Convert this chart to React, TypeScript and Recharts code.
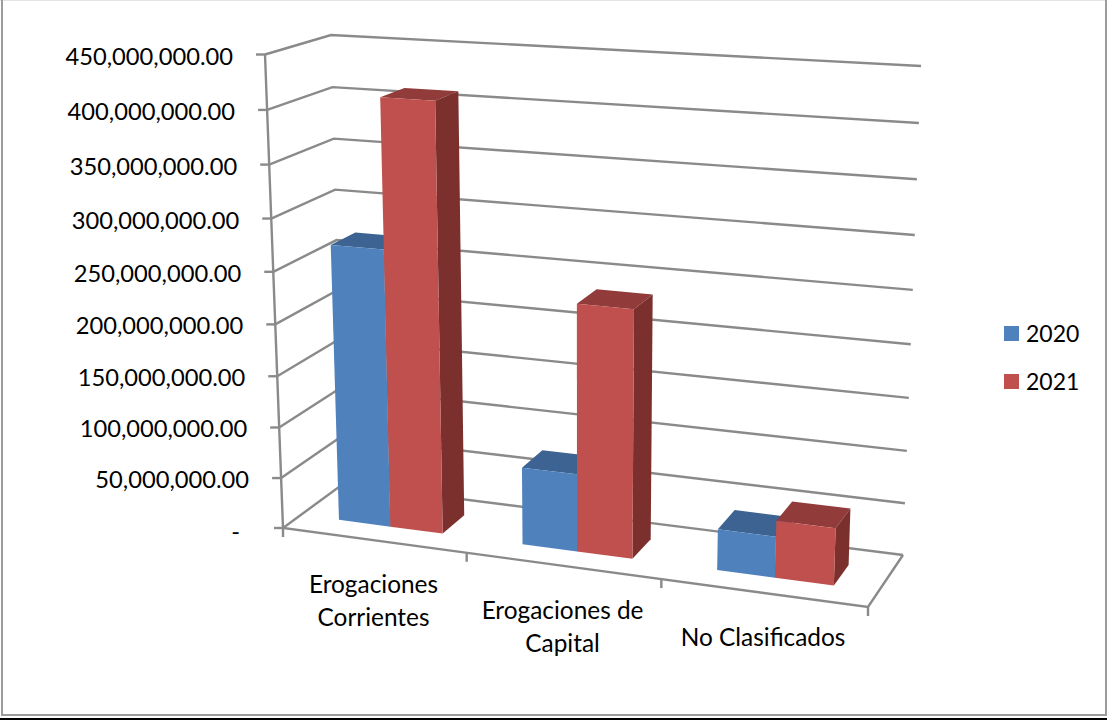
import React from "react";
import { Bar, BarChart, CartesianGrid, Legend, XAxis, YAxis } from "recharts";

const categories = ["Erogaciones Corrientes", "Erogaciones de Capital", "No Clasificados"];
const values2020 = [270000000, 75000000, 39000000];
const values2021 = [411000000, 236000000, 54000000];
const valueTicks = [0, 50000000, 100000000, 150000000, 200000000, 250000000, 300000000, 350000000, 400000000, 450000000];
const categoryLines = [["Erogaciones", "Corrientes"], ["Erogaciones de", "Capital"], ["No Clasificados"]];

const data = categories.map((name, i) => ({
  name,
  y2020: values2020[i],
  y2021: values2021[i],
}));

const WIDTH = 1107;
const HEIGHT = 720;
const MARGIN = 50;
const PLOT_W = WIDTH - MARGIN * 2;
const PLOT_H = HEIGHT - MARGIN * 2;
const FONT = "Lato, sans-serif";
const LINE = "#8a8a8a";

type Pt = [number, number];

// corners of the flat plot as they appear in the tilted view: TL, TR, BR, BL
function homography([p0, p1, p2, p3]: Pt[]) {
  const dx1 = p1[0] - p2[0];
  const dx2 = p3[0] - p2[0];
  const dy1 = p1[1] - p2[1];
  const dy2 = p3[1] - p2[1];
  const sx = p0[0] - p1[0] + p2[0] - p3[0];
  const sy = p0[1] - p1[1] + p2[1] - p3[1];
  const den = dx1 * dy2 - dx2 * dy1;
  const g = (sx * dy2 - dx2 * sy) / den;
  const h = (dx1 * sy - sx * dy1) / den;
  const a = p1[0] - p0[0] + g * p1[0];
  const b = p3[0] - p0[0] + h * p3[0];
  const d = p1[1] - p0[1] + g * p1[1];
  const e = p3[1] - p0[1] + h * p3[1];
  return (u: number, v: number): Pt => {
    const q = g * u + h * v + 1;
    return [(a * u + b * v + p0[0]) / q, (d * u + e * v + p0[1]) / q];
  };
}

const frontPlane = homography([[265, 54.5], [887, 92], [868, 607], [283, 528]]);
const backPlane = homography([[331, 35], [921, 66], [903, 555], [343, 484]]);

function project(u: number, v: number, w: number): Pt {
  const f = frontPlane(u, v);
  const b = backPlane(u, v);
  return [f[0] + (b[0] - f[0]) * w, f[1] + (b[1] - f[1]) * w];
}

const toU = (x: number) => (x - MARGIN) / PLOT_W;
const toV = (y: number) => (y - MARGIN) / PLOT_H;
const pts = (list: Pt[]) => list.map((p) => p.join(",")).join(" ");

const BAR_FRONT = 0.3;
const BAR_BACK = 0.7;

function Bar3D({ x, y, width, height, front, top, side }: any) {
  const u0 = toU(x);
  const u1 = toU(x + width);
  const v0 = toV(y);
  const v1 = toV(y + height);
  return (
    <g>
      <polygon points={pts([project(u0, v0, BAR_FRONT), project(u1, v0, BAR_FRONT), project(u1, v0, BAR_BACK), project(u0, v0, BAR_BACK)])} fill={top} />
      <polygon points={pts([project(u1, v0, BAR_FRONT), project(u1, v0, BAR_BACK), project(u1, v1, BAR_BACK), project(u1, v1, BAR_FRONT)])} fill={side} />
      <polygon points={pts([project(u0, v0, BAR_FRONT), project(u1, v0, BAR_FRONT), project(u1, v1, BAR_FRONT), project(u0, v1, BAR_FRONT)])} fill={front} />
    </g>
  );
}

function GridLine({ y1 }: any) {
  const v = toV(y1);
  return (
    <polyline
      points={pts([project(0, v, 0), project(0, v, 1), project(1, v, 1)])}
      fill="none"
      stroke={LINE}
      strokeWidth={2.4}
    />
  );
}

function ValueTick({ y, payload }: any) {
  const [px, py] = project(0, toV(y), 0);
  const isZero = payload.value === 0;
  const label = isZero
    ? "-"
    : payload.value.toLocaleString("en-US", { minimumFractionDigits: 2, maximumFractionDigits: 2 });
  return (
    <g>
      <line x1={px - 9} y1={py} x2={px} y2={py} stroke={LINE} strokeWidth={2.4} />
      <text
        x={isZero ? px - 43 : px - 32}
        y={py + (isZero ? 3 : 1)}
        textAnchor="end"
        dominantBaseline="central"
        fontFamily={FONT}
        fontSize={23.7}
        fill="#000"
      >
        {label}
      </text>
    </g>
  );
}

function CategoryTick({ x, index }: any) {
  const [px, py] = project(toU(x), 1, 0);
  return (
    <text textAnchor="middle" fontFamily={FONT} fontSize={24.4} fill="#000">
      {categoryLines[index].map((line, i) => (
        <tspan key={line} x={px} y={py + 53 + i * 33}>
          {line}
        </tspan>
      ))}
    </text>
  );
}

function Frame() {
  const base = project(0, 1, 0);
  const corner = project(1, 1, 0);
  const backCorner = project(1, 1, 1);
  const top = project(0, 0, 0);
  return (
    <g>
      <rect x={0} y={0} width={WIDTH} height={1} fill="#e4e4e4" />
      <rect x={1} y={0} width={2} height={716} fill="#9c9c9c" />
      <rect x={1105} y={0} width={2} height={716} fill="#9c9c9c" />
      <rect x={1} y={714} width={1106} height={2} fill="#9c9c9c" />
      <rect x={0} y={718} width={WIDTH} height={2} fill="#000" />
      <polyline points={pts([top, base, corner, backCorner])} fill="none" stroke={LINE} strokeWidth={2.4} />
      {[0, 1, 2, 3].map((i) => {
        const [px, py] = project(i / categories.length, 1, 0);
        return <line key={i} x1={px} y1={py} x2={px} y2={py + 9} stroke={LINE} strokeWidth={2.4} />;
      })}
    </g>
  );
}

function LegendBox({ payload }: any) {
  return (
    <div>
      {(payload || []).map((item: any) => (
        <div key={item.value} style={{ display: "flex", alignItems: "center", height: 48, fontFamily: FONT, fontSize: 23, color: "#000" }}>
          <span style={{ width: 15, height: 15, background: item.color, marginRight: 7 }} />
          {item.value}
        </div>
      ))}
    </div>
  );
}

export default function App() {
  return (
    <div style={{ position: "absolute", left: 0, top: 0, width: WIDTH, height: HEIGHT, background: "#fff" }}>
      <BarChart
        width={WIDTH}
        height={HEIGHT}
        data={data}
        margin={{ top: MARGIN, right: MARGIN, bottom: MARGIN - 1, left: MARGIN - 1 }}
        barGap={0}
        barCategoryGap="21.43%"
      >
        <Frame />
        <CartesianGrid vertical={false} horizontal={(props: any) => <GridLine key={props.key ?? props.y1} {...props} />} />
        <XAxis dataKey="name" height={1} interval={0} axisLine={false} tickLine={false} tick={<CategoryTick />} />
        <YAxis
          width={1}
          domain={[0, 450000000]}
          ticks={valueTicks}
          interval={0}
          axisLine={false}
          tickLine={false}
          tick={<ValueTick />}
        />
        <Legend
          layout="vertical"
          align="center"
          verticalAlign="middle"
          content={<LegendBox />}
          wrapperStyle={{ position: "absolute", left: 1004, top: 309, width: 90 }}
        />
        <Bar
          dataKey="y2020"
          name="2020"
          fill="#4f81bd"
          isAnimationActive={false}
          shape={(props: any) => <Bar3D {...props} front="#4f81bd" top="#3c6391" side="#3a5e8a" />}
        />
        <Bar
          dataKey="y2021"
          name="2021"
          fill="#c0504d"
          isAnimationActive={false}
          shape={(props: any) => <Bar3D {...props} front="#c0504d" top="#913c3a" side="#7b302e" />}
        />
      </BarChart>
    </div>
  );
}
